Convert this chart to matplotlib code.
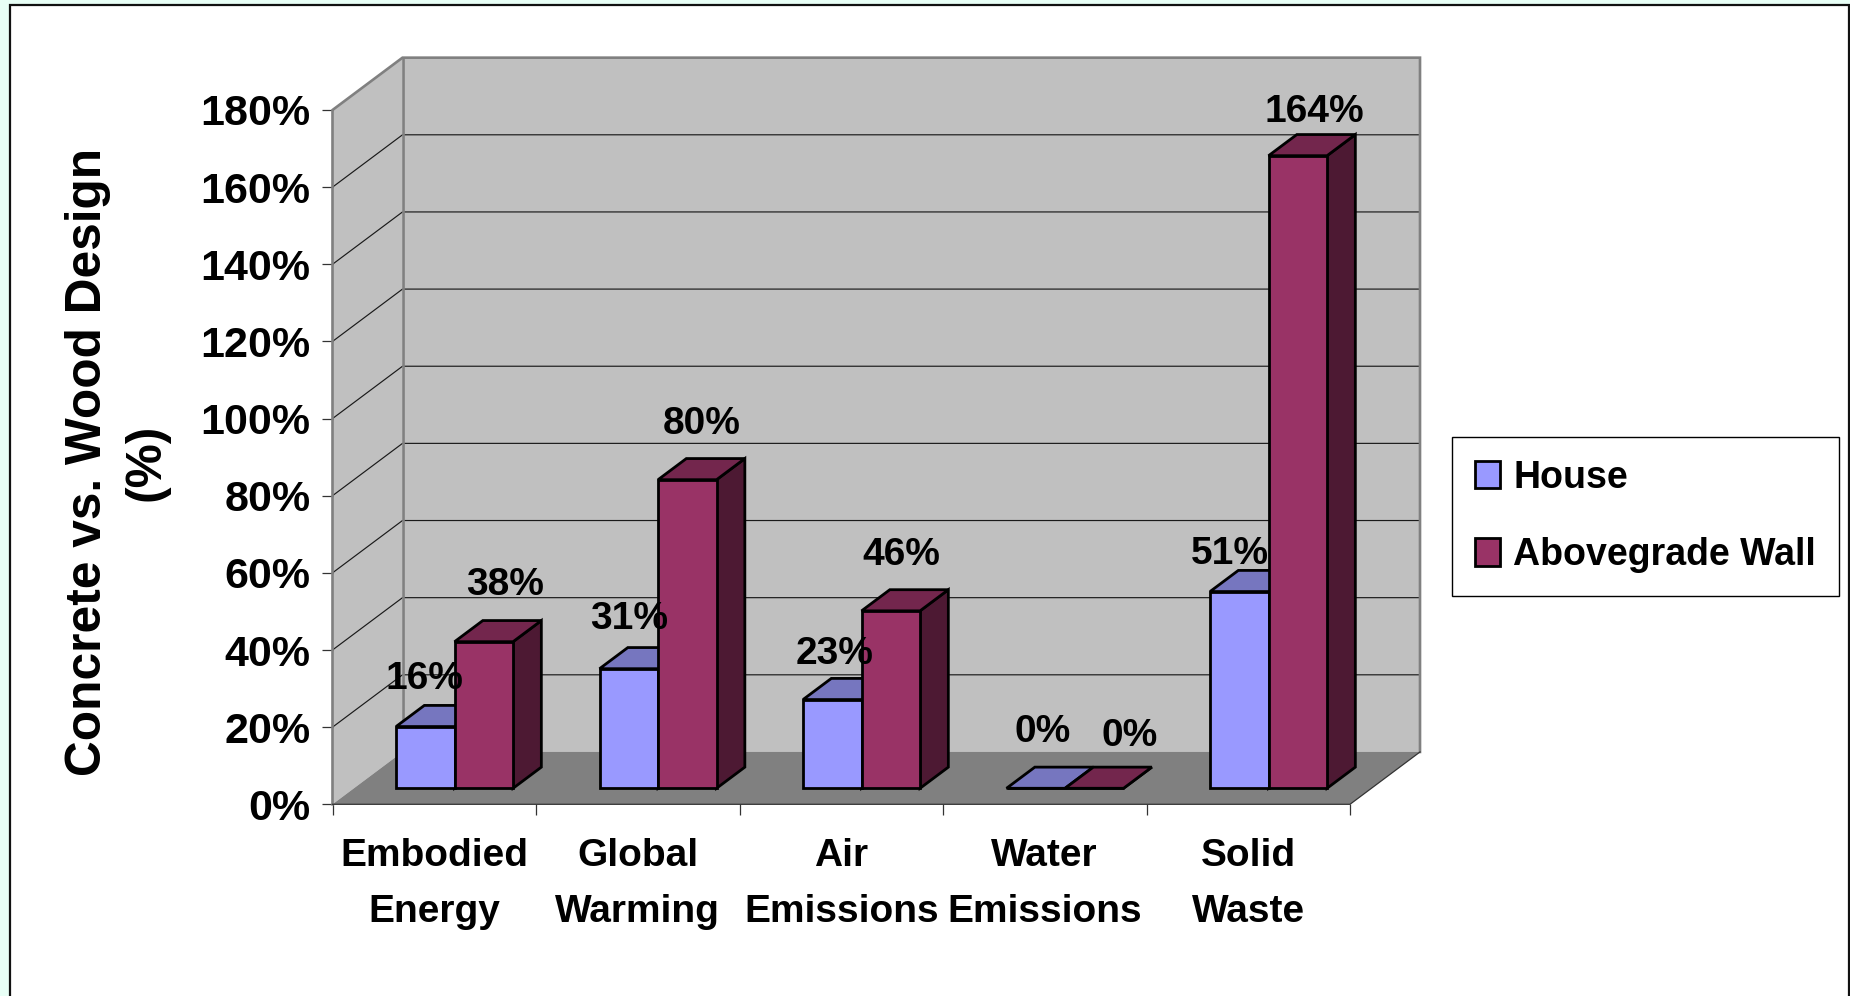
import matplotlib
matplotlib.use('Agg')
import matplotlib.pyplot as plt
from matplotlib.patches import Patch, Rectangle
from matplotlib.ticker import PercentFormatter

plt.rcParams['font.family'] = ['Liberation Sans', 'DejaVu Sans']
plt.rcParams['font.weight'] = 'bold'

categories = ['Embodied\nEnergy', 'Global\nWarming', 'Air\nEmissions', 'Water\nEmissions', 'Solid\nWaste']
house = [16, 31, 23, 0, 51]
wall = [38, 80, 46, 0, 164]
y_ticks = [0, 20, 40, 60, 80, 100, 120, 140, 160, 180]
series_names = ['House', 'Abovegrade Wall']

# nudges for the value labels, in pixels from the top of each bar
house_offsets = [(-1, 48), (0, 50), (2, 46), (7, 56), (-9, 38)]
wall_offsets = [(21, 57), (14, 56), (11, 56), (35, 52), (17, 44)]

W, H = 1850, 996

# oblique look: moving back one full depth shifts this much in data units
DEPTH_X = 0.344
DEPTH_Y = 13.57
BAR_Z0, BAR_Z1 = 0.306, 0.71
BAR_W = 0.2875
BAR_LEFT = 0.207

GRAY_WALL = '#C0C0C0'
GRAY_FLOOR = '#808080'
HOUSE_COLS = ('#9999FF', '#7676BF', '#4D4D80')
WALL_COLS = ('#993366', '#73264D', '#4D1933')
EDGE_LW = 2.0


def pr(x, y, z):
    return x + z * DEPTH_X, y + z * DEPTH_Y


def face(ax, pts, color, ec='none', lw=0, zorder=1):
    xs, ys = zip(*[pr(*p) for p in pts])
    ax.fill(xs, ys, facecolor=color, edgecolor=ec, linewidth=lw, clip_on=False,
            zorder=zorder, joinstyle='miter')


def box(ax, x0, value, cols, zorder):
    x1 = x0 + BAR_W
    a, b = BAR_Z0, BAR_Z1
    face(ax, [(x1, 0, a), (x1, 0, b), (x1, value, b), (x1, value, a)], cols[2], 'black', EDGE_LW, zorder)
    face(ax, [(x0, value, a), (x1, value, a), (x1, value, b), (x0, value, b)], cols[1], 'black', EDGE_LW, zorder)
    face(ax, [(x0, 0, a), (x1, 0, a), (x1, value, a), (x0, value, a)], cols[0], 'black', EDGE_LW, zorder)


fig = plt.figure(figsize=(W / 100, H / 100), dpi=100, facecolor='#E8FFF6')

# white slide panel, its bottom edge runs off the page
fig.add_artist(Rectangle((9.5 / W, -0.1), (1849 - 9.5) / W, 1.1 - 5.5 / H,
                         transform=fig.transFigure, facecolor='white',
                         edgecolor='#111111', linewidth=1.6, zorder=-5))

ax = fig.add_axes([332.5 / W, 1 - 804.3 / H, (1350 - 332.5) / W, (804.3 - 110) / H])
ax.set_xlim(0, 5)
ax.set_ylim(0, 180)
ax.patch.set_visible(False)
for s in ax.spines.values():
    s.set_visible(False)

n = len(categories)
top = y_ticks[-1]

# back wall, side wall and floor
face(ax, [(0, 0, 1), (n, 0, 1), (n, top, 1), (0, top, 1)], GRAY_WALL, zorder=1)
face(ax, [(0, 0, 0), (0, 0, 1), (0, top, 1), (0, top, 0)], GRAY_WALL, zorder=1)
face(ax, [(0, 0, 0), (n, 0, 0), (n, 0, 1), (0, 0, 1)], GRAY_FLOOR, zorder=1)

for v in y_ticks[1:-1]:
    xs, ys = zip(pr(0, v, 0), pr(0, v, 1), pr(n, v, 1))
    ax.plot(xs, ys, color='#1a1a1a', lw=0.85, clip_on=False, zorder=2)

# gray outline round the walls
xs, ys = zip(pr(0, 0, 0), pr(0, top, 0), pr(0, top, 1), pr(n, top, 1), pr(n, 0, 1))
ax.plot(xs, ys, color=GRAY_FLOOR, lw=1.9, clip_on=False, zorder=2, solid_joinstyle='miter')
xs, ys = zip(pr(0, 0, 1), pr(0, top, 1))
ax.plot(xs, ys, color=GRAY_FLOOR, lw=1.9, clip_on=False, zorder=2)
xs, ys = zip(pr(n, 0, 1), pr(n, 0, 0), pr(0, 0, 0))
ax.plot(xs, ys, color='#333333', lw=0.9, clip_on=False, zorder=2)

for i in range(n):
    box(ax, i + BAR_LEFT, house[i], HOUSE_COLS, 3 + i * 2)
    box(ax, i + BAR_LEFT + BAR_W, wall[i], WALL_COLS, 4 + i * 2)

# value labels sit over everything
for i in range(n):
    for vals, offs, shift in ((house, house_offsets, 0.5), (wall, wall_offsets, 1.5)):
        x = i + BAR_LEFT + shift * BAR_W + BAR_Z0 * DEPTH_X
        ax.annotate('%d%%' % vals[i], xy=(x, vals[i] + BAR_Z0 * DEPTH_Y), xytext=offs[i],
                    textcoords='offset pixels', ha='center', va='center',
                    fontsize=28, annotation_clip=False, zorder=30)

ax.set_yticks(y_ticks)
ax.yaxis.set_major_formatter(PercentFormatter(decimals=0))
ax.set_xticks(range(n + 1))
ax.set_xticklabels([''] * (n + 1))
ax.tick_params(axis='both', length=8, width=0.9, color='#333333')
ax.tick_params(axis='y', labelsize=31, pad=8)

for i, c in enumerate(categories):
    ax.annotate(c, xy=(i + 0.5, 0), xytext=(0, -34), textcoords='offset pixels',
                ha='center', va='top', fontsize=28, linespacing=1.72, annotation_clip=False)

ax.set_ylabel('Concrete vs. Wood Design\n(%)', fontsize=35.7, fontweight='bold', linespacing=1.37,
              va='center', ha='center')
ax.yaxis.set_label_coords(-0.2115, 0.493)

handles = [Patch(facecolor=HOUSE_COLS[0], edgecolor='black', linewidth=2.0),
           Patch(facecolor=WALL_COLS[0], edgecolor='black', linewidth=2.0)]
fig.legend(handles, series_names, loc='upper left',
           bbox_to_anchor=(1451.5 / W, 1 - 436.7 / H), borderaxespad=0,
           fontsize=27, frameon=True, fancybox=False, framealpha=1,
           edgecolor='black', handlelength=0.68, handleheight=0.74,
           handletextpad=0.35, labelspacing=1.1, borderpad=0.62)

fig.savefig('out.png', dpi=100)
